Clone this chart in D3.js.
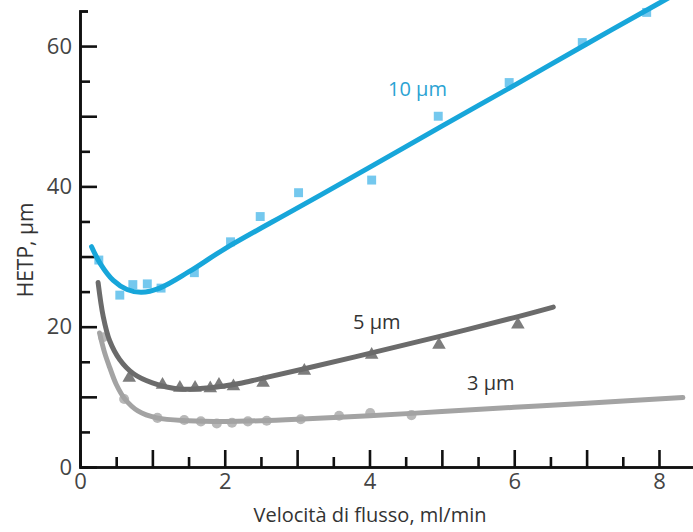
<!DOCTYPE html>
<html>
<head>
<meta charset="utf-8">
<script src="https://cdn.jsdelivr.net/npm/d3@7"></script>
<style>
  body { margin: 0; background: #fff; overflow: hidden; }
  text { font-family: "Open Sans", "DejaVu Sans", sans-serif; }
</style>
</head>
<body>
<div id="chart"></div>
<script>
var svgWidth = 693
var svgHeight = 532

// measured points (flow ml/min, HETP um)
var flow10 = [0.26, 0.55, 0.73, 0.93, 1.12, 1.58, 2.08, 2.49, 3.02, 4.03, 4.95, 5.93, 6.94, 7.83]
var hetp10 = [29.5, 24.5, 26.0, 26.1, 25.5, 27.7, 32.1, 35.7, 39.1, 40.9, 50.0, 54.8, 60.5, 64.8]

var flow5 = [0.68, 1.14, 1.38, 1.59, 1.80, 1.92, 2.12, 2.53, 3.10, 4.03, 4.96, 6.05]
var hetp5 = [12.7, 11.7, 11.3, 11.3, 11.2, 11.7, 11.5, 12.0, 13.7, 16.0, 17.4, 20.3]

var flow3 = [0.32, 0.61, 1.07, 1.44, 1.67, 1.89, 2.10, 2.32, 2.58, 3.05, 3.58, 4.01, 4.58]
var hetp3 = [18.5, 9.7, 7.0, 6.7, 6.5, 6.2, 6.3, 6.5, 6.6, 6.8, 7.3, 7.7, 7.4]

// fitted curves as drawn
var fitFlow10 = [0.16, 0.28, 0.46, 0.65, 0.85, 1.1, 1.5, 2, 3, 4, 5, 6, 7, 8, 8.5]
var fitHetp10 = [31.4, 29.0, 26.6, 25.3, 24.9, 25.5, 27.8, 31.1, 36.9, 42.7, 48.6, 54.4, 60.3, 66.1, 69.0]

var fitFlow5 = [0.25, 0.32, 0.41, 0.55, 0.74, 1.0, 1.38, 1.8, 2.2, 2.5, 3.1, 4.0, 5.0, 6.0, 6.54]
var fitHetp5 = [26.3, 21.5, 18.0, 15.3, 13.3, 12.0, 11.1, 11.3, 11.9, 12.6, 14.0, 16.2, 18.7, 21.3, 22.8]

var fitFlow3 = [0.27, 0.34, 0.41, 0.5, 0.62, 0.8, 1.06, 1.5, 2.0, 2.5, 3, 4, 5, 6, 7, 8.33]
var fitHetp3 = [19.1, 16.3, 14.2, 11.8, 9.7, 8.0, 7.0, 6.6, 6.5, 6.6, 6.8, 7.3, 7.9, 8.5, 9.1, 9.9]

var xMajor = [0, 1, 2, 3, 4, 5, 6, 7, 8]
var xMinor = [0.5, 1.5, 2.5, 3.5, 4.5, 5.5, 6.5, 7.5]
var yMajor = [0, 10, 20, 30, 40, 50, 60]
var yMinor = [5, 15, 25, 35, 45, 55]

var svg = d3.select("#chart")
    .append("svg")
    .attr("width", svgWidth)
    .attr("height", svgHeight)
    .style("display", "block")

var xScale = d3.scaleLinear().domain([0, 8.47]).range([80, 693])
var yScale = d3.scaleLinear().domain([0, 65]).range([467, 11])

// Axes, ticks pointing inward
svg.append("g")
    .attr("transform", "translate(0," + yScale(0) + ")")
    .call(d3.axisBottom(xScale).tickValues(xMinor).tickSize(-10).tickSizeOuter(0).tickFormat(""))
svg.append("g")
    .attr("class", "xMajor")
    .attr("transform", "translate(0," + yScale(0) + ")")
    .call(d3.axisBottom(xScale).tickValues(xMajor).tickSize(-17).tickSizeOuter(0).tickPadding(9)
        .tickFormat(d => d % 2 === 0 ? d : ""))

svg.append("g")
    .attr("transform", "translate(" + xScale(0) + ",0)")
    .call(d3.axisLeft(yScale).tickValues(yMinor).tickSize(-10).tickSizeOuter(-8).tickFormat(""))
svg.append("g")
    .attr("class", "yMajor")
    .attr("transform", "translate(" + xScale(0) + ",0)")
    .call(d3.axisLeft(yScale).tickValues(yMajor).tickSize(-17).tickSizeOuter(-8).tickPadding(8)
        .tickFormat(d => d % 20 === 0 ? d : ""))

svg.selectAll(".domain, .tick line")
    .attr("stroke", "#111")
    .attr("stroke-width", 2.6)
svg.selectAll(".tick text")
    .attr("fill", "#444")
    .attr("font-size", 22)
svg.selectAll(".xMajor .tick text").attr("dy", "0.6em")

// Axis titles
svg.append("text")
    .attr("x", 370)
    .attr("y", 522)
    .attr("text-anchor", "middle")
    .attr("font-size", 20)
    .attr("fill", "#333")
    .text("Velocità di flusso, ml/min")

svg.append("text")
    .attr("transform", "translate(33,250) rotate(-90)")
    .attr("text-anchor", "middle")
    .attr("font-size", 21)
    .attr("fill", "#333")
    .text("HETP, µm")

var line = d3.line()
    .x(d => xScale(d[0]))
    .y(d => yScale(d[1]))
    .curve(d3.curveCatmullRom.alpha(0.5))

var series = [
    {fx: fitFlow3, fy: fitHetp3, px: flow3, py: hetp3, line: "#a3a3a3", mark: "#b8b8b8", shape: d3.symbolCircle},
    {fx: fitFlow5, fy: fitHetp5, px: flow5, py: hetp5, line: "#6b6b6b", mark: "#7d7d7d", shape: d3.symbolTriangle},
    {fx: fitFlow10, fy: fitHetp10, px: flow10, py: hetp10, line: "#17a6da", mark: "#74c8ee", shape: d3.symbolSquare}
]

series.forEach(function(s) {
    svg.append("g")
        .selectAll("path")
        .data(d3.zip(s.px, s.py))
        .enter()
        .append("path")
        .attr("transform", d => `translate(${xScale(d[0])},${yScale(d[1])})`)
        .attr("d", d3.symbol().type(s.shape).size(80))
        .attr("fill", s.mark)

    svg.append("path")
        .datum(d3.zip(s.fx, s.fy))
        .attr("d", line)
        .attr("fill", "none")
        .attr("stroke", s.line)
        .attr("stroke-width", 5)
        .attr("stroke-linecap", "round")
})

// Series labels
svg.append("text")
    .attr("x", 388).attr("y", 96)
    .attr("font-size", 20).attr("fill", "#2ba3d3")
    .text("10 µm")
svg.append("text")
    .attr("x", 353).attr("y", 329)
    .attr("font-size", 20).attr("fill", "#333")
    .text("5 µm")
svg.append("text")
    .attr("x", 467).attr("y", 390)
    .attr("font-size", 20).attr("fill", "#333")
    .text("3 µm")
</script>
</body>
</html>
